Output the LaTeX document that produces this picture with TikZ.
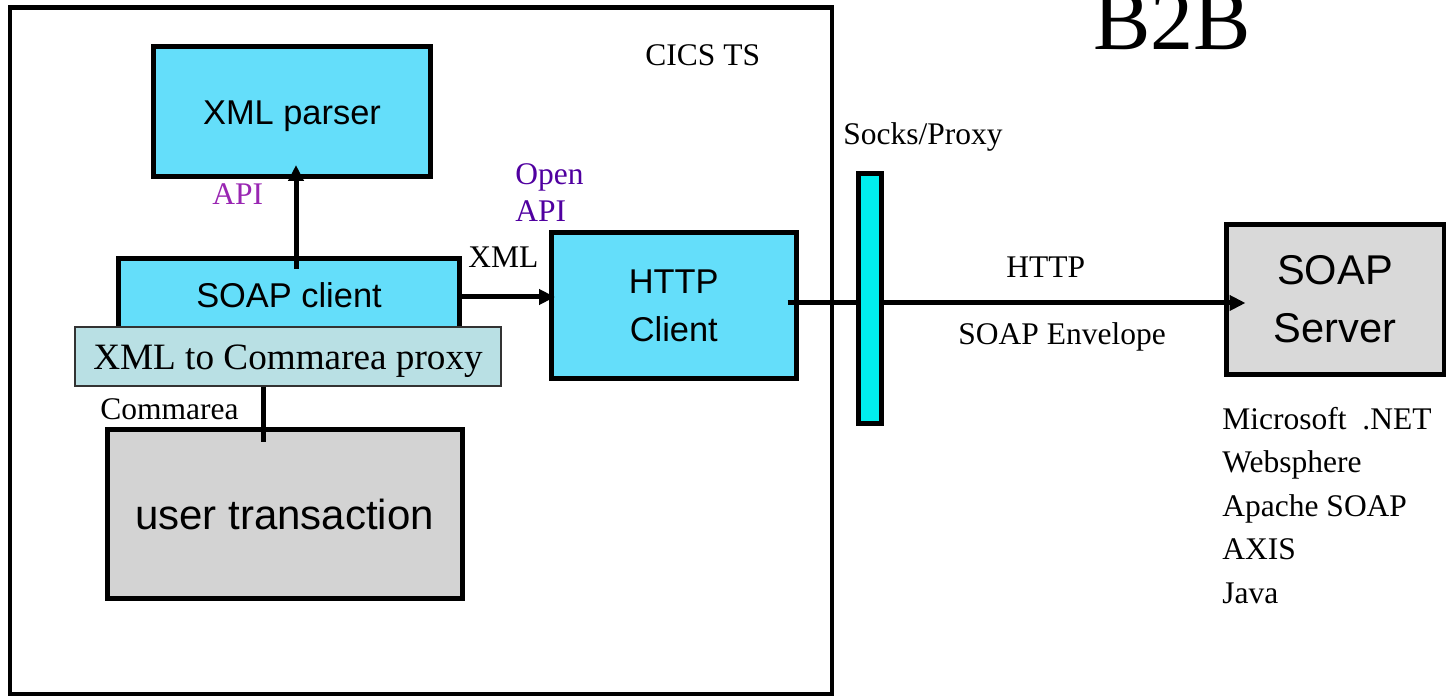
\documentclass[tikz,border=0pt]{standalone}
\usepackage{fontspec}
\setmainfont{Liberation Serif}
\setsansfont{Liberation Sans}
\usetikzlibrary{arrows.meta,calc}
\definecolor{boxcyan}{RGB}{100,222,250}
\definecolor{proxyfill}{RGB}{185,224,228}
\definecolor{utgray}{RGB}{211,211,211}
\definecolor{srvgray}{RGB}{217,217,217}
\definecolor{barcyan}{RGB}{0,238,238}
\definecolor{apipurple}{RGB}{153,38,178}
\definecolor{openpurple}{RGB}{80,0,160}
\begin{document}
\begin{tikzpicture}[x=0.5pt,y=-0.5pt,
  box/.style={draw=black,line width=2.5pt,rectangle,inner sep=0pt,
    font=\sffamily\fontsize{17.2pt}{24pt}\selectfont},
  lbl/.style={inner sep=0pt,anchor=base west,font=\fontsize{15.75pt}{18.5pt}\selectfont},
  arr/.style={line width=2.5pt,-{Triangle[length=8pt,width=7.5pt]}},
  ln/.style={line width=2.5pt}]
\useasboundingbox (0,0) rectangle (1446,699);
\clip (0,0) rectangle (1446,699);
% CICS region
\node[draw=black,line width=2.25pt,rectangle,inner sep=0pt,
  minimum width=411pt,minimum height=343.25pt] (cics) at (421,350.75) {};
% boxes
\node[box,fill=boxcyan,minimum width=138.5pt,minimum height=65pt,
  text height=13.5pt,text depth=0pt] (xmlparser) at (292,111.5) {XML parser};
\node[box,fill=boxcyan,minimum width=170.25pt,minimum height=38.75pt,
  text height=11pt,text depth=0pt] (soapclient) at (289,297) {SOAP client};
\node[draw=black!80,line width=0.75pt,fill=proxyfill,rectangle,inner sep=0pt,
  minimum width=213pt,minimum height=29.5pt,text height=13.5pt,text depth=0pt,
  font=\fontsize{18.6pt}{22pt}\selectfont] (proxy) at (288,356.5) {XML to Commarea proxy};
\node[box,fill=utgray,minimum width=177.5pt,minimum height=84.5pt,
  text height=16pt,text depth=0pt,font=\sffamily\fontsize{21pt}{25pt}\selectfont]
  (usertrans) at (284.5,514) {user transaction};
\node[box,fill=boxcyan,minimum width=122.25pt,minimum height=73.25pt,align=center]
  (httpclient) at (673.75,305.75) {HTTP\\Client};
\node[box,fill=srvgray,minimum width=109pt,minimum height=75pt,align=center,
  font=\sffamily\fontsize{20.8pt}{29pt}\selectfont]
  (soapserver) at (1335,299.5) {SOAP\\Server};
% connectors
\draw[arr] ($(soapclient.north)+(7,13.5)$) -- ($(xmlparser.south)+(4,-14)$);
\draw[arr] ($(soapclient.east)+(-4,0)$) -- ($(httpclient.west |- soapclient.east)+(6,0)$);
\draw[ln] ($(proxy.south)+(-25,0)$) -- ($(usertrans.north)+(-21.5,15.5)$);
\draw[arr] ($(httpclient.east)+(-11,-2.75)$) -- ($(soapserver.west)+(22,3.5)$);
% socks/proxy bar
\node[draw=black,line width=2.5pt,fill=barcyan,rectangle,inner sep=0pt,
  minimum width=11.5pt,minimum height=125pt] (socks) at (870,299) {};
% labels
\node[lbl] (cicslabel) at (645,66) {CICS TS};
\node[lbl,text=apipurple] (apilabel) at (212,205) {API};
\node[lbl,anchor=north west,align=left,text=openpurple] (openapi) at (515,163) {Open\\API};
\node[lbl] (xmllabel) at (468,268) {XML};
\node[lbl] (commarea) at (100,420) {Commarea};
\node[lbl] (sockslabel) at (843,145) {Socks/Proxy};
\node[lbl] (httplabel) at (1006,278) {HTTP};
\node[lbl] (envlabel) at (958,345) {SOAP Envelope};
\node[lbl,anchor=north west,align=left,font=\fontsize{15.75pt}{21.75pt}\selectfont]
  (platforms) at (1222,406.5) {Microsoft\ \ .NET\\Websphere\\Apache SOAP\\AXIS\\Java};
\node[inner sep=0pt,anchor=base west,font=\fontsize{43pt}{50pt}\selectfont] (title) at (1093,50) {B2B};
\end{tikzpicture}
\end{document}
